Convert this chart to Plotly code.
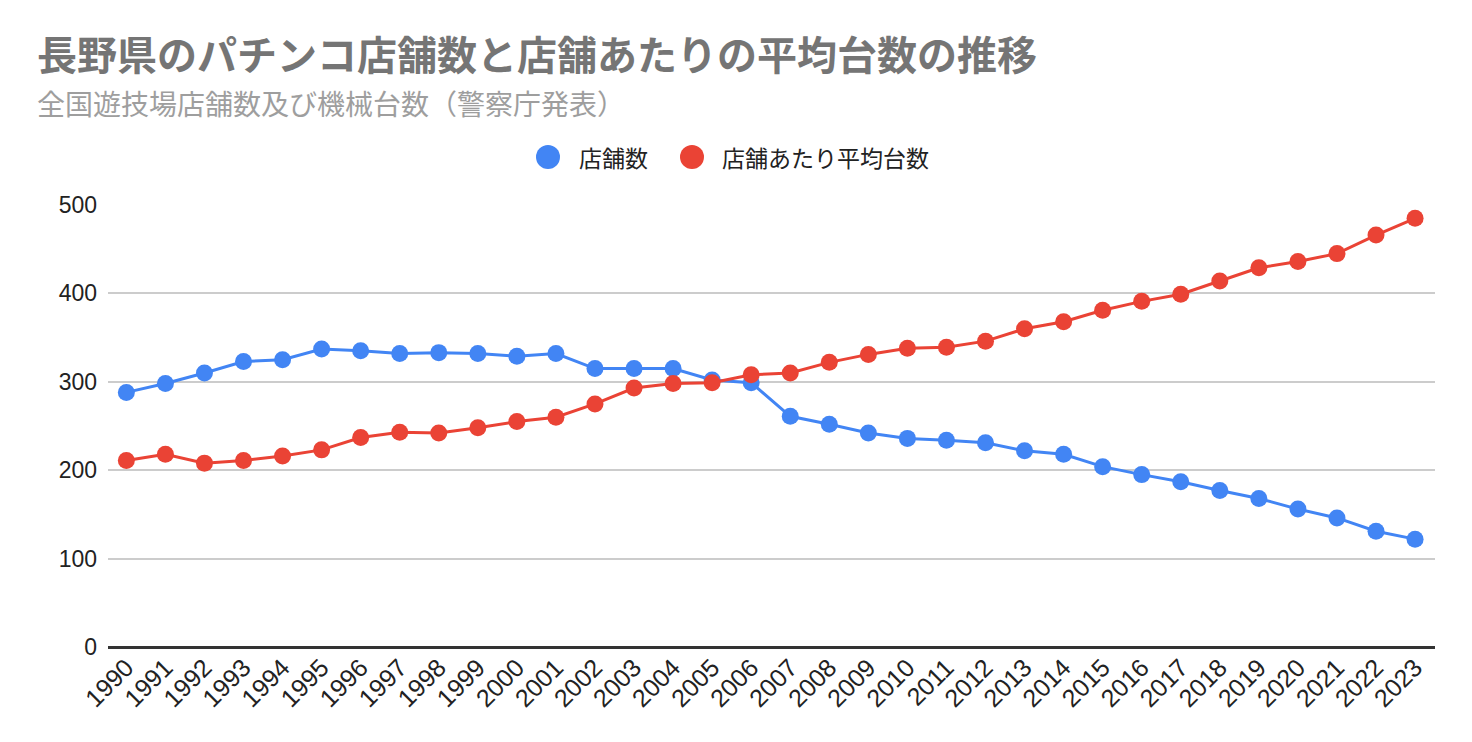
import plotly.graph_objects as go

years = [str(y) for y in range(1990, 2024)]
stores = [288, 298, 310, 323, 325, 337, 335, 332, 333, 332, 329, 332,
          315, 315, 315, 302, 299, 261, 252, 242, 236, 234, 231,
          222, 218, 204, 195, 187, 177, 168, 156, 146, 131, 122]
avg_machines = [211, 218, 208, 211, 216, 223, 237, 243, 242, 248, 255, 260,
                275, 293, 298, 299, 308, 310, 322, 331, 338, 339, 346,
                360, 368, 381, 391, 399, 414, 429, 436, 445, 466, 485]
series_names = ["店舗数", "店舗あたり平均台数"]
colors = ["#4285F4", "#EA4335"]
y_ticks = [0, 100, 200, 300, 400, 500]

# figure is placed at (8, 8) in the page because of the body margin
W, H = 1464, 734
L, R, T, B = 100, 37, 197, 95
PW, PH = W - L - R, H - T - B


def px(x):
    return (x - L) / PW


def py(y):
    return 1 + (T - y) / PH


fig = go.Figure()
for name, vals, col in zip(series_names, [stores, avg_machines], colors):
    fig.add_trace(go.Scatter(
        x=years, y=vals, name=name, mode="lines+markers",
        line=dict(color=col, width=3),
        marker=dict(color=col, size=17),
        showlegend=False,
    ))

legend_circle_x = [540, 684]
legend_text_x = [569, 712]
legend_y = 149
shapes = []
annotations = []
for name, col, cx, tx in zip(series_names, colors, legend_circle_x, legend_text_x):
    shapes.append(dict(type="circle", xref="paper", yref="paper",
                       xsizemode="pixel", ysizemode="pixel",
                       xanchor=px(cx), yanchor=py(legend_y),
                       x0=-12, x1=12, y0=-12, y1=12,
                       fillcolor=col, line=dict(width=0)))
    annotations.append(dict(text=name, xref="paper", yref="paper",
                            x=px(tx), y=py(legend_y), xanchor="left",
                            yanchor="middle", showarrow=False,
                            font=dict(family="Noto Sans CJK JP", size=23,
                                      color="#222222")))

annotations += [
    dict(text="<b>長野県のパチンコ店舗数と店舗あたりの平均台数の推移</b>",
         xref="paper", yref="paper", x=px(27), y=py(45),
         xanchor="left", yanchor="middle", showarrow=False,
         font=dict(family="Noto Sans CJK JP", size=40, color="#757575")),
    dict(text="全国遊技場店舗数及び機械台数（警察庁発表）",
         xref="paper", yref="paper", x=px(27), y=py(95),
         xanchor="left", yanchor="middle", showarrow=False,
         font=dict(family="Noto Sans CJK JP", size=28, color="#9E9E9E")),
]

fig.update_layout(
    width=W, height=H,
    margin=dict(l=L, r=R, t=T, b=B, autoexpand=False),
    paper_bgcolor="white", plot_bgcolor="white",
    font=dict(family="Liberation Sans, Arial, sans-serif", color="#222222"),
    showlegend=False,
    xaxis=dict(type="category", range=[-0.47, 33.51], tickangle=-45,
               tickfont=dict(family="Liberation Sans, Arial, sans-serif",
                             size=25, color="#222222"),
               showgrid=False, automargin=False,
               showline=False, ticks="", zeroline=False),
    yaxis=dict(range=[0, 500], tickvals=y_ticks, showgrid=True,
               gridcolor="#CCCCCC", gridwidth=1.5, zeroline=True,
               zerolinecolor="#333333", zerolinewidth=2.5,
               tickfont=dict(family="Liberation Sans, Arial, sans-serif",
                             size=23, color="#222222"), ticks="",
               ticklabelstandoff=10),
    shapes=shapes,
    annotations=annotations,
)

fig.write_html("out.html")
